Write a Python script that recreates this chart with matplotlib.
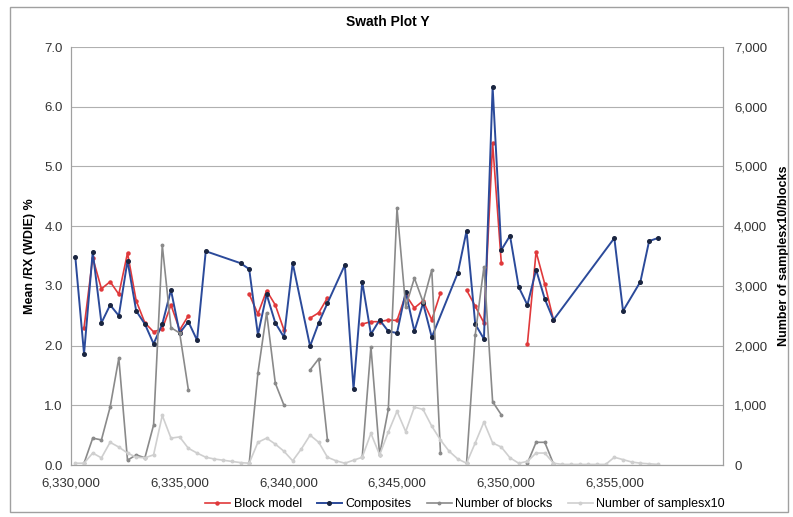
import numpy as np
import matplotlib
matplotlib.use("Agg")
import matplotlib.pyplot as plt
from matplotlib.ticker import FuncFormatter, MultipleLocator
from matplotlib.patches import Rectangle

nan = np.nan

# Composites (mean grade, left axis)
comp_n = [6330200, 6330600, 6331000, 6331400, 6331800, 6332200, 6332600, 6333000,
          6333400, 6333800, 6334200, 6334600, 6335000, 6335400, 6335800, 6336200,
          6337800, 6338200, 6338600, 6339000, 6339400, 6339800, 6340200, 6341000,
          6341400, 6341800, 6342600, 6343000, 6343400, 6343800, 6344200, 6344600,
          6345000, 6345400, 6345800, 6346200, 6346600, 6347800, 6348200, 6348600,
          6349000, 6349400, 6349800, 6350200, 6350600, 6351000, 6351400, 6351800,
          6352200, 6355000, 6355400, 6356200, 6356600, 6357000]
comp_v = [3.48, 1.86, 3.57, 2.38, 2.68, 2.50, 3.42, 2.58,
          2.36, 2.03, 2.36, 2.93, 2.21, 2.40, 2.09, 3.58,
          3.38, 3.28, 2.18, 2.86, 2.38, 2.14, 3.38, 1.99,
          2.38, 2.71, 3.35, 1.27, 3.07, 2.19, 2.43, 2.24,
          2.21, 2.90, 2.24, 2.71, 2.14, 3.22, 3.92, 2.36,
          2.11, 6.33, 3.60, 3.84, 2.98, 2.68, 3.27, 2.78,
          2.43, 3.80, 2.58, 3.07, 3.75, 3.80]

# Block model (left axis), nan = no blocks
bm_n = [6330600, 6331000, 6331400, 6331800, 6332200, 6332600, 6333000, 6333400,
        6333800, 6334200, 6334600, 6335000, 6335400, 6335800,
        6338200, 6338600, 6339000, 6339400, 6339800, 6340200,
        6341000, 6341400, 6341800, 6342200,
        6343400, 6343800, 6344200, 6344600, 6345000, 6345400, 6345800, 6346200,
        6346600, 6347000, 6347400,
        6348200, 6348600, 6349000, 6349400, 6349800, 6350200,
        6351000, 6351400, 6351800, 6352200]
bm_v = [2.30, 3.47, 2.95, 3.07, 2.86, 3.55, 2.75, 2.38,
        2.23, 2.28, 2.68, 2.26, 2.50, nan,
        2.86, 2.53, 2.92, 2.68, 2.26, nan,
        2.46, 2.55, 2.80, nan,
        2.36, 2.40, 2.40, 2.43, 2.42, 2.85, 2.63, 2.75,
        2.43, 2.88, nan,
        2.93, 2.66, 2.38, 5.39, 3.38, nan,
        2.03, 3.57, 3.03, 2.43]

# Number of blocks (right axis)
nb_n = [6330600, 6331000, 6331400, 6331800, 6332200, 6332600, 6333000, 6333400,
        6333800, 6334200, 6334600, 6335000, 6335400, 6335800,
        6338200, 6338600, 6339000, 6339400, 6339800, 6340200,
        6341000, 6341400, 6341800, 6342200,
        6343400, 6343800, 6344200, 6344600, 6345000, 6345400, 6345800, 6346200,
        6346600, 6347000, 6347400,
        6348200, 6348600, 6349000, 6349400, 6349800, 6350200,
        6351000, 6351400, 6351800, 6352200]
nb_v = [30, 450, 420, 970, 1790, 80, 170, 120,
        670, 3680, 2300, 2210, 1260, nan,
        30, 1540, 2550, 1370, 1000, nan,
        1590, 1780, 420, nan,
        130, 1980, 170, 930, 4300, 2650, 3130, 2730,
        3270, 200, nan,
        30, 2180, 3320, 1060, 840, nan,
        30, 380, 380, 20]

# Number of samples x10 (right axis)
ns_n = [6330200, 6330600, 6331000, 6331400, 6331800, 6332200, 6332600, 6333000,
        6333400, 6333800, 6334200, 6334600, 6335000, 6335400, 6335800, 6336200,
        6336600, 6337000, 6337400, 6337800, 6338200, 6338600, 6339000, 6339400,
        6339800, 6340200, 6340600, 6341000, 6341400, 6341800, 6342200, 6342600,
        6343000, 6343400, 6343800, 6344200, 6344600, 6345000, 6345400, 6345800,
        6346200, 6346600, 6347000, 6347400, 6347800, 6348200, 6348600, 6349000,
        6349400, 6349800, 6350200, 6350600, 6351000, 6351400, 6351800, 6352200,
        6352600, 6353000, 6353400, 6353800, 6354200, 6354600, 6355000, 6355400,
        6355800, 6356200, 6356600, 6357000]
ns_v = [30, 30, 200, 120, 380, 300, 200, 130,
        120, 170, 830, 450, 470, 280, 200, 130,
        100, 80, 60, 40, 30, 380, 450, 350,
        230, 70, 270, 500, 380, 130, 70, 30,
        80, 130, 530, 170, 550, 900, 560, 970,
        930, 650, 420, 230, 100, 30, 370, 720,
        370, 300, 120, 30, 60, 200, 200, 30,
        10, 10, 10, 10, 10, 10, 130, 90,
        50, 30, 20, 10]

plt.rcParams['font.family'] = ['Liberation Sans', 'DejaVu Sans']

fig = plt.figure(figsize=(7.93, 5.17), dpi=100)
ax = fig.add_axes([71/793, 1 - 465/517, (723-71)/793, (465-47)/517])
ax2 = ax.twinx()

ax.plot(bm_n, bm_v, color='#e0393b', lw=1.2, marker='o', ms=2.2, label='Block model', zorder=3)
ax.plot(comp_n, comp_v, color='#2b4a9a', lw=1.4, marker='o', ms=2.6,
        mfc='#1a2540', mec='#1a2540', label='Composites', zorder=4)
ax2.plot(nb_n, nb_v, color='#8a8a8a', lw=1.2, marker='o', ms=1.8, label='Number of blocks')
ax2.plot(ns_n, ns_v, color='#cfcfcf', lw=1.2, marker='o', ms=1.8, label='Number of samplesx10')

ax.set_xlim(6330000, 6360000)
ax.set_ylim(0, 7)
ax2.set_ylim(0, 7000)
ax.set_xticks([6330000, 6335000, 6340000, 6345000, 6350000, 6355000])
ax.xaxis.set_major_formatter(FuncFormatter(lambda v, p: f"{int(v):,}"))
ax.yaxis.set_major_locator(MultipleLocator(1))
ax.yaxis.set_major_formatter(FuncFormatter(lambda v, p: f"{v:.1f}"))
ax2.yaxis.set_major_locator(MultipleLocator(1000))
ax2.yaxis.set_major_formatter(FuncFormatter(lambda v, p: f"{int(v):,}"))

ax.grid(axis='y', color='#b0b0b0', lw=0.8)
ax.set_axisbelow(True)
for a in (ax, ax2):
    a.spines['top'].set_visible(False)
    for s in ('left', 'bottom', 'right'):
        a.spines[s].set_color('#a0a0a0')
    a.tick_params(length=0, labelsize=9.5, colors='#333333')
ax.tick_params(axis='x', pad=9)
ax.tick_params(axis='y', pad=6)
ax2.tick_params(axis='y', pad=8)

ax.set_ylabel('Mean /RX (WDIE) %', fontsize=9, fontweight='bold', labelpad=6)
ax2.set_ylabel('Number of samplesx10/blocks', fontsize=9, fontweight='bold', labelpad=8)
fig.text(388/793, 1 - 22/517, 'Swath Plot Y', ha='center', va='center',
         fontsize=10, fontweight='bold')

h1, l1 = ax.get_legend_handles_labels()
h2, l2 = ax2.get_legend_handles_labels()
fig.legend(h1 + h2, l1 + l2, loc='center', bbox_to_anchor=(465/793, 1 - 504/517),
           ncol=4, frameon=False, fontsize=9, handlelength=2, columnspacing=1.2,
           handletextpad=0.3)

fig.patches.append(Rectangle((10/793, 1 - 512/517), 778/793, 505/517, transform=fig.transFigure,
                             fill=False, ec='#a0a0a0', lw=1))

fig.savefig('out.png', dpi=100)
